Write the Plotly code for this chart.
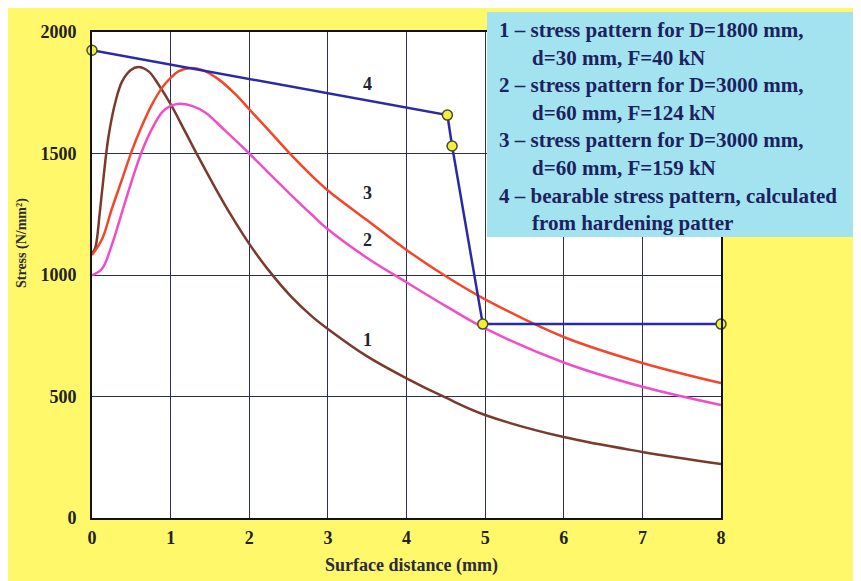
import plotly.graph_objects as go

# ---- data ----
x_ticks = [0, 1, 2, 3, 4, 5, 6, 7, 8]
y_ticks = [0, 500, 1000, 1500, 2000]

c1_x = [0, 0.04, 0.1, 0.13, 0.21, 0.30, 0.38, 0.49, 0.59, 0.72, 0.845, 1.0, 1.18, 1.35, 1.56, 1.77, 2.0, 2.24, 2.53, 2.79, 3.0, 3.5, 4.0, 4.5, 5.0, 6.0, 7.0, 8.0]
c1_y = [1088, 1110, 1260, 1351, 1570, 1715, 1795, 1843, 1856, 1838, 1784, 1703, 1593, 1488, 1363, 1245, 1128, 1022, 912, 832, 778, 665, 575, 495, 424, 333, 272, 222]

c2_x = [0, 0.13, 0.25, 0.38, 0.51, 0.63, 0.76, 0.89, 1.0, 1.12, 1.27, 1.44, 1.69, 2.0, 2.24, 2.53, 2.79, 3.0, 3.5, 4.0, 4.5, 5.0, 6.0, 7.0, 8.0]
c2_y = [998, 1027, 1122, 1257, 1392, 1505, 1600, 1669, 1696, 1705, 1696, 1669, 1595, 1500, 1422, 1330, 1250, 1188, 1070, 970, 872, 780, 640, 540, 465]

c3_x = [0, 0.13, 0.25, 0.38, 0.51, 0.63, 0.76, 0.89, 1.0, 1.1, 1.23, 1.39, 1.61, 1.82, 2.0, 2.24, 2.53, 2.79, 3.0, 3.5, 4.0, 4.5, 5.0, 6.0, 7.0, 8.0]
c3_y = [1082, 1149, 1270, 1392, 1514, 1610, 1700, 1770, 1811, 1838, 1851, 1845, 1805, 1745, 1682, 1598, 1495, 1410, 1348, 1225, 1103, 995, 900, 745, 638, 555]

c4_x = [0, 4.52, 4.58, 4.97, 8.0]
c4_y = [1925, 1658, 1531, 798, 798]

curve_labels = ["1", "2", "3", "4"]
curve_label_x = [3.5, 3.5, 3.5, 3.5]
curve_label_y = [732, 1144, 1337, 1786]

legend_lines = [
    "1 – stress pattern for D=1800 mm,",
    "d=30 mm, F=40 kN",
    "2 – stress pattern for D=3000 mm,",
    "d=60 mm, F=124 kN",
    "3 – stress pattern for D=3000 mm,",
    "d=60 mm, F=159 kN",
    "4 – bearable stress pattern, calculated",
    "from hardening patter",
]
legend_indent = [False, True, False, True, False, True, False, True]

x_title = "Surface distance (mm)"
y_title = "Stress (N/mm²)"

# ---- layout geometry (figure pixels; page adds an 8px body margin) ----
W, H = 853, 573
L, R, T, B = 84, 713, 24, 510
pw, ph = R - L, B - T


def px(xp):
    return (xp - L) / pw


def py(yp):
    return (B - yp) / ph


SERIF = "Liberation Serif, Times New Roman, serif"
YELLOW = "#FFF86A"
CYAN = "#A3E3F0"
NAVY = "#1C2260"
GRID = "#2B2D5C"

fig = go.Figure()

fig.add_trace(go.Scatter(x=c1_x, y=c1_y, mode="lines", line=dict(color="#7A3A2C", width=2.5, shape="spline", smoothing=1.0), hoverinfo="skip"))
fig.add_trace(go.Scatter(x=c2_x, y=c2_y, mode="lines", line=dict(color="#F04EC8", width=2.5, shape="spline", smoothing=1.0), hoverinfo="skip"))
fig.add_trace(go.Scatter(x=c3_x, y=c3_y, mode="lines", line=dict(color="#F2472A", width=2.5, shape="spline", smoothing=1.0), hoverinfo="skip"))
fig.add_trace(go.Scatter(x=c4_x, y=c4_y, mode="lines+markers", cliponaxis=False,
                         line=dict(color="#2A2AA6", width=2.5),
                         marker=dict(size=10, color="#F2EE3A", line=dict(color="#4A4A30", width=1.5)),
                         hoverinfo="skip"))

shapes = [
    # legend box
    dict(type="rect", xref="paper", yref="paper", layer="above",
         x0=px(479), x1=px(W + 10), y0=py(229), y1=py(4),
         fillcolor=CYAN, line=dict(width=0)),
]

annotations = []
for i, (txt, ind) in enumerate(zip(legend_lines, legend_indent)):
    annotations.append(dict(
        text=txt, xref="paper", yref="paper",
        x=px(522 if ind else 489), y=py(22 + 27.6 * i),
        xanchor="left", yanchor="middle", showarrow=False,
        font=dict(family=SERIF, size=21, color=NAVY, weight="bold")))

for t, xx, yy in zip(curve_labels, curve_label_x, curve_label_y):
    annotations.append(dict(text=t, x=xx, y=yy, xref="x", yref="y", showarrow=False,
                            font=dict(family=SERIF, size=18, color="#222233", weight="bold")))

annotations.append(dict(text=x_title, xref="paper", yref="paper", x=px(403), y=py(557),
                        xanchor="center", yanchor="middle", showarrow=False,
                        font=dict(family=SERIF, size=18, color="#2A2A3A", weight="bold")))
annotations.append(dict(text=y_title, xref="paper", yref="paper", x=px(14), y=py(235),
                        xanchor="center", yanchor="middle", showarrow=False, textangle=-90,
                        font=dict(family=SERIF, size=14, color="#2A2A3A", weight="bold")))

fig.update_layout(
    width=W, height=H,
    margin=dict(l=L, r=W - R, t=T, b=H - B, pad=0),
    paper_bgcolor=YELLOW,
    plot_bgcolor="white",
    showlegend=False,
    shapes=shapes,
    annotations=annotations,
    xaxis=dict(range=[0, 8], tickvals=x_ticks, ticktext=[str(v) for v in x_ticks],
               showgrid=True, gridcolor=GRID, gridwidth=1, zeroline=False,
               showline=True, linecolor="#111111", linewidth=2, mirror=True,
               ticks="", ticklabelstandoff=2,
               tickfont=dict(family=SERIF, size=18, color="#222222", weight="bold")),
    yaxis=dict(range=[0, 2000], tickvals=y_ticks, ticktext=[str(v) for v in y_ticks],
               showgrid=True, gridcolor=GRID, gridwidth=1, zeroline=False,
               showline=True, linecolor="#111111", linewidth=2, mirror=True,
               ticks="", ticklabelstandoff=10,
               tickfont=dict(family=SERIF, size=18, color="#222222", weight="bold")),
)

fig.write_html("out.html")
